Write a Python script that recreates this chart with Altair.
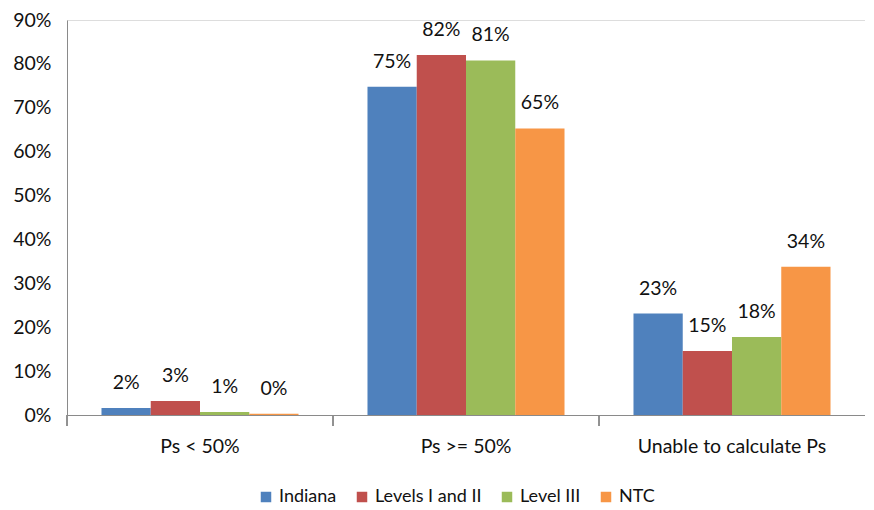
import altair as alt
import pandas as pd

categories = ["Ps < 50%", "Ps >= 50%", "Unable to calculate Ps"]
series = ["Indiana", "Levels I and II", "Level III", "NTC"]
colors = ["#4F81BD", "#C0504D", "#9BBB59", "#F79646"]

# values (fractions) per series, in category order
indiana = [0.016, 0.748, 0.231]
levels_1_2 = [0.032, 0.820, 0.146]
level_3 = [0.007, 0.808, 0.178]
ntc = [0.003, 0.653, 0.338]

# data labels as shown
indiana_lbl = ["2%", "75%", "23%"]
levels_1_2_lbl = ["3%", "82%", "15%"]
level_3_lbl = ["1%", "81%", "18%"]
ntc_lbl = ["0%", "65%", "34%"]

rows = []
for s, vals, lbls in zip(series,
                         [indiana, levels_1_2, level_3, ntc],
                         [indiana_lbl, levels_1_2_lbl, level_3_lbl, ntc_lbl]):
    for c, v, l in zip(categories, vals, lbls):
        rows.append({"cat": c, "series": s, "value": v, "label": l})
df = pd.DataFrame(rows)

FONT = "Lato"
TXT = "#111111"
AX = "#8a8a8a"
W, H = 798, 395
FS = 19.5

x_enc = alt.X("cat:N", sort=categories,
              scale=alt.Scale(paddingInner=0, paddingOuter=0),
              axis=alt.Axis(title=None, labelAngle=0, ticks=False, labelLimit=0,
                            domainColor=AX, labelFontSize=FS, labelFont=FONT,
                            labelColor=TXT, labelPadding=22))
xoff = alt.XOffset("series:N", sort=series,
                   scale=alt.Scale(paddingInner=0, paddingOuter=0.7))
y_enc = alt.Y("value:Q",
              scale=alt.Scale(domain=[0, 0.9], nice=False),
              axis=alt.Axis(title=None, format=".0%", values=[i / 10 for i in range(10)],
                            grid=False, ticks=False, domainColor=AX,
                            labelFontSize=FS, labelFont=FONT, labelColor=TXT,
                            labelPadding=16))

bars = alt.Chart(df).mark_bar().encode(
    x=x_enc,
    xOffset=xoff,
    y=y_enc,
    color=alt.Color("series:N", sort=series,
                    scale=alt.Scale(domain=series, range=colors),
                    legend=alt.Legend(title=None, orient="none", direction="horizontal",
                                      legendX=190, legendY=468,
                                      symbolType="square", symbolSize=110,
                                      symbolStrokeWidth=0, labelFontSize=18,
                                      labelFont=FONT, labelColor=TXT,
                                      labelOffset=4, columnPadding=16)),
)

labels = alt.Chart(df).mark_text(baseline="alphabetic", dy=-19, fontSize=FS,
                                 font=FONT, color=TXT).encode(
    x=alt.X("cat:N", sort=categories),
    xOffset=alt.XOffset("series:N", sort=series),
    y="value:Q",
    text="label:N",
)

ticks = alt.Chart(df).mark_rule(color=AX, strokeWidth=1).encode(
    x=alt.X("cat:N", sort=categories, bandPosition=0),
    y=alt.value(H),
    y2=alt.value(H + 11),
)

chart = alt.layer(bars, labels, ticks).properties(
    width=W, height=H,
    autosize=alt.AutoSizeParams(type="none"),
    padding={"left": 59, "top": 12, "right": 0, "bottom": 93},
).configure_view(stroke=None).configure(font=FONT)

chart.save("out.html", embed_options={"renderer": "svg", "actions": False})
